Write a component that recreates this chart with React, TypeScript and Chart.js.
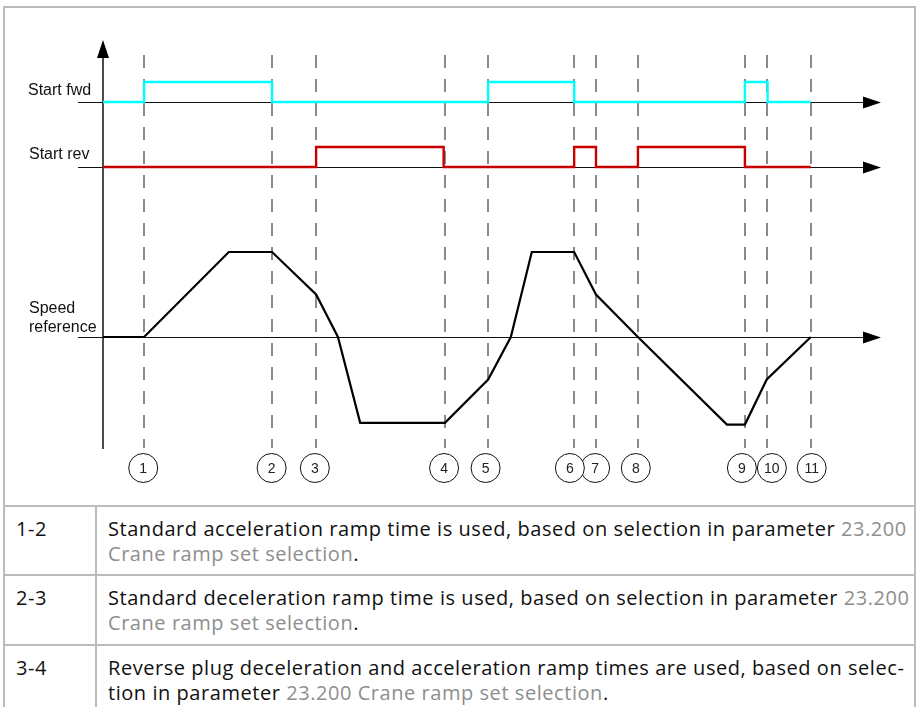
import React, { useEffect, useRef } from 'react';
import { Chart, registerables } from 'chart.js';

Chart.register(...registerables);

// ---------- data ----------
const EVENT_LABELS = ['1', '2', '3', '4', '5', '6', '7', '8', '9', '10', '11'];
const EVENT_T = [9.6, 39.5, 49.8, 79.9, 90, 110.1, 115.2, 125, 150, 155.1, 165.4];
const LABEL_T = [9.4, 39.4, 49.5, 79.7, 89.4, 109.1, 115.0, 124.5, 149.3, 156.3, 165.6];

const FWD_T = [0, 9.6, 39.5, 90, 110.1, 150, 155.3, 165.4];
const FWD_STATE = [0, 1, 0, 1, 0, 1, 0, 0];

const REV_T = [0, 49.8, 79.6, 110.1, 115.2, 125, 150, 165.4];
const REV_STATE = [0, 1, 0, 1, 0, 1, 0, 0];

const SPEED_T = [0, 9.6, 29.4, 39.5, 49.8, 54.9, 60.1, 79.9, 90, 95.3, 100.2, 110.1, 115.2, 125, 145.8, 150, 155.1, 165.4];
const SPEED_REF = [0, 0, 100, 100, 50, 0, -101, -101, -50, 0, 100, 100, 50, 0, -103, -103, -50, 0];

const FWD_LABEL = 'Start fwd';
const REV_LABEL = 'Start rev';
const SPEED_LABEL = ['Speed', 'reference'];

const ROW_KEYS = ['1-2', '2-3', '3-4'];
type Seg = [string, boolean];
const ROW_1: Seg[][] = [
  [['Standard acceleration ramp time is used, based on selection in parameter ', false], ['23.200', true]],
  [['Crane ramp set selection', true], ['.', false]],
];
const ROW_2: Seg[][] = [
  [['Standard deceleration ramp time is used, based on selection in parameter ', false], ['23.200', true]],
  [['Crane ramp set selection', true], ['.', false]],
];
const ROW_3: Seg[][] = [
  [['Reverse plug deceleration and acceleration ramp times are used, based on selec-', false]],
  [['tion in parameter ', false], ['23.200 Crane ramp set selection', true], ['.', false]],
];
const ROW_TEXT = [ROW_1, ROW_2, ROW_3];

// ---------- layout ----------
const W = 919;
const FIG_H = 506;
const AREA = { left: 103, right: 881, top: 40, bottom: 449 };
const X_MAX = 181.8;
const ROW_TOPS = [506, 575, 645];
const BORDER = '#bcbcbc';

function yRange(pxZero: number, pxPerUnit: number) {
  return {
    min: -(AREA.bottom - pxZero) / pxPerUnit,
    max: (pxZero - AREA.top) / pxPerUnit,
  };
}

const LABEL_FONT = '16px "Liberation Sans", Arial, sans-serif';

const diagramPlugin = {
  id: 'diagram',
  beforeDatasetsDraw(chart: any) {
    const { ctx, chartArea: a, scales } = chart;
    const xs = scales.x;
    ctx.save();
    // dashed event lines
    ctx.strokeStyle = '#8a8a8a';
    ctx.lineWidth = 2;
    ctx.setLineDash([13, 11]);
    for (const t of EVENT_T) {
      const x = Math.round(xs.getPixelForValue(t));
      ctx.beginPath();
      ctx.moveTo(x, a.top + 15);
      ctx.lineTo(x, a.bottom - 1);
      ctx.stroke();
    }
    ctx.setLineDash([]);
    // horizontal axes with arrows
    ctx.strokeStyle = '#111';
    ctx.fillStyle = '#000';
    ctx.lineWidth = 1.2;
    for (const id of ['yFwd', 'yRev', 'ySpeed']) {
      const y = Math.round(scales[id].getPixelForValue(0)) + 0.5;
      ctx.beginPath();
      ctx.moveTo(a.left - 25, y);
      ctx.lineTo(a.right - 16, y);
      ctx.stroke();
      ctx.beginPath();
      ctx.moveTo(a.right, y);
      ctx.lineTo(a.right - 18, y - 6);
      ctx.lineTo(a.right - 18, y + 6);
      ctx.closePath();
      ctx.fill();
    }
    // vertical axis with arrow
    const x0 = xs.getPixelForValue(0);
    ctx.lineWidth = 1.5;
    ctx.beginPath();
    ctx.moveTo(x0, a.top + 16);
    ctx.lineTo(x0, a.bottom);
    ctx.stroke();
    ctx.beginPath();
    ctx.moveTo(x0, a.top);
    ctx.lineTo(x0 - 6, a.top + 18);
    ctx.lineTo(x0 + 6, a.top + 18);
    ctx.closePath();
    ctx.fill();
    ctx.restore();
  },
  afterDatasetsDraw(chart: any) {
    const { ctx, chartArea: a, scales } = chart;
    const xs = scales.x;
    ctx.save();
    // numbered circles (drawn last-to-first so earlier ones sit on top)
    const cy = a.bottom + 19;
    for (let i = LABEL_T.length - 1; i >= 0; i--) {
      const cx = xs.getPixelForValue(LABEL_T[i]);
      ctx.beginPath();
      ctx.arc(cx, cy, 14.5, 0, Math.PI * 2);
      ctx.fillStyle = '#fff';
      ctx.fill();
      ctx.strokeStyle = '#111';
      ctx.lineWidth = 1;
      ctx.stroke();
      ctx.fillStyle = '#222';
      ctx.font = '14px "Liberation Sans", Arial, sans-serif';
      ctx.textAlign = 'center';
      ctx.textBaseline = 'middle';
      ctx.fillText(EVENT_LABELS[i], cx, cy + 1);
    }
    // signal labels
    ctx.fillStyle = '#111';
    ctx.font = LABEL_FONT;
    ctx.textAlign = 'left';
    ctx.textBaseline = 'alphabetic';
    const yf = scales.yFwd.getPixelForValue(0);
    const yr = scales.yRev.getPixelForValue(0);
    const ysp = scales.ySpeed.getPixelForValue(0);
    ctx.fillText(FWD_LABEL, 28, yf - 7);
    ctx.fillText(REV_LABEL, 29, yr - 8);
    ctx.fillText(SPEED_LABEL[0], 29, ysp - 24);
    ctx.fillText(SPEED_LABEL[1], 29, ysp - 5);
    ctx.restore();
  },
};

function toPoints(xs: number[], ys: number[]) {
  return xs.map((x, i) => ({ x, y: ys[i] }));
}

const TEXT_STYLE: React.CSSProperties = {
  position: 'absolute',
  fontFamily: '"Open Sans", "Noto Sans", sans-serif',
  fontSize: 20,
  letterSpacing: '0.55px',
  lineHeight: '25px',
  whiteSpace: 'nowrap',
  color: '#111',
};

function Line({ x, y, w, h }: { x: number; y: number; w: number; h: number }) {
  return <div style={{ position: 'absolute', left: x, top: y, width: w, height: h, background: BORDER }} />;
}

export default function App() {
  const ref = useRef<HTMLCanvasElement>(null);

  useEffect(() => {
    const chart = new Chart(ref.current as HTMLCanvasElement, {
      type: 'line',
      data: {
        datasets: [
          {
            label: FWD_LABEL,
            data: toPoints(FWD_T, FWD_STATE),
            yAxisID: 'yFwd',
            borderColor: '#00ffff',
            borderWidth: 2.4,
            stepped: true,
            pointRadius: 0,
            fill: false,
          },
          {
            label: REV_LABEL,
            data: toPoints(REV_T, REV_STATE),
            yAxisID: 'yRev',
            borderColor: '#c80000',
            borderWidth: 2.4,
            stepped: true,
            pointRadius: 0,
            fill: false,
          },
          {
            label: 'Speed reference',
            data: toPoints(SPEED_T, SPEED_REF),
            yAxisID: 'ySpeed',
            borderColor: '#000',
            borderWidth: 2.2,
            tension: 0,
            pointRadius: 0,
            fill: false,
          },
        ],
      },
      options: {
        animation: false,
        responsive: false,
        maintainAspectRatio: false,
        devicePixelRatio: 1,
        layout: {
          padding: {
            left: AREA.left,
            right: W - AREA.right,
            top: AREA.top,
            bottom: FIG_H - AREA.bottom,
          },
        },
        plugins: { legend: { display: false }, tooltip: { enabled: false } },
        events: [],
        scales: {
          x: { type: 'linear', min: 0, max: X_MAX, display: false },
          yFwd: { type: 'linear', ...yRange(102, 20), display: false },
          yRev: { type: 'linear', ...yRange(167, 20), display: false },
          ySpeed: { type: 'linear', ...yRange(337, 0.85), display: false },
        },
      },
      plugins: [diagramPlugin],
    } as any);
    return () => chart.destroy();
  }, []);

  return (
    <div style={{ position: 'absolute', left: 0, top: 0, width: W, height: 707, overflow: 'hidden', background: '#fff' }}>
      <canvas ref={ref} width={W} height={FIG_H} style={{ position: 'absolute', left: 0, top: 0, width: W, height: FIG_H }} />
      {/* frame */}
      <Line x={3} y={6} w={913} h={2} />
      <Line x={3} y={6} w={2} h={720} />
      <Line x={914} y={6} w={2} h={720} />
      {ROW_TOPS.map((y) => (
        <Line key={y} x={3} y={y - 1} w={913} h={2} />
      ))}
      <Line x={95} y={ROW_TOPS[0]} w={2} h={220} />
      {/* rows */}
      {ROW_KEYS.map((k, i) => (
        <React.Fragment key={k}>
          <div style={{ ...TEXT_STYLE, left: 16, top: ROW_TOPS[i] + 9.7 }}>{k}</div>
          <div style={{ ...TEXT_STYLE, left: 108, top: ROW_TOPS[i] + 9.7 }}>
            {ROW_TEXT[i].map((line, li) => (
              <div key={li}>
                {line.map(([t, link], si) => (
                  <span key={si} style={link ? { color: '#8e8e8e' } : undefined}>
                    {t}
                  </span>
                ))}
              </div>
            ))}
          </div>
        </React.Fragment>
      ))}
    </div>
  );
}
